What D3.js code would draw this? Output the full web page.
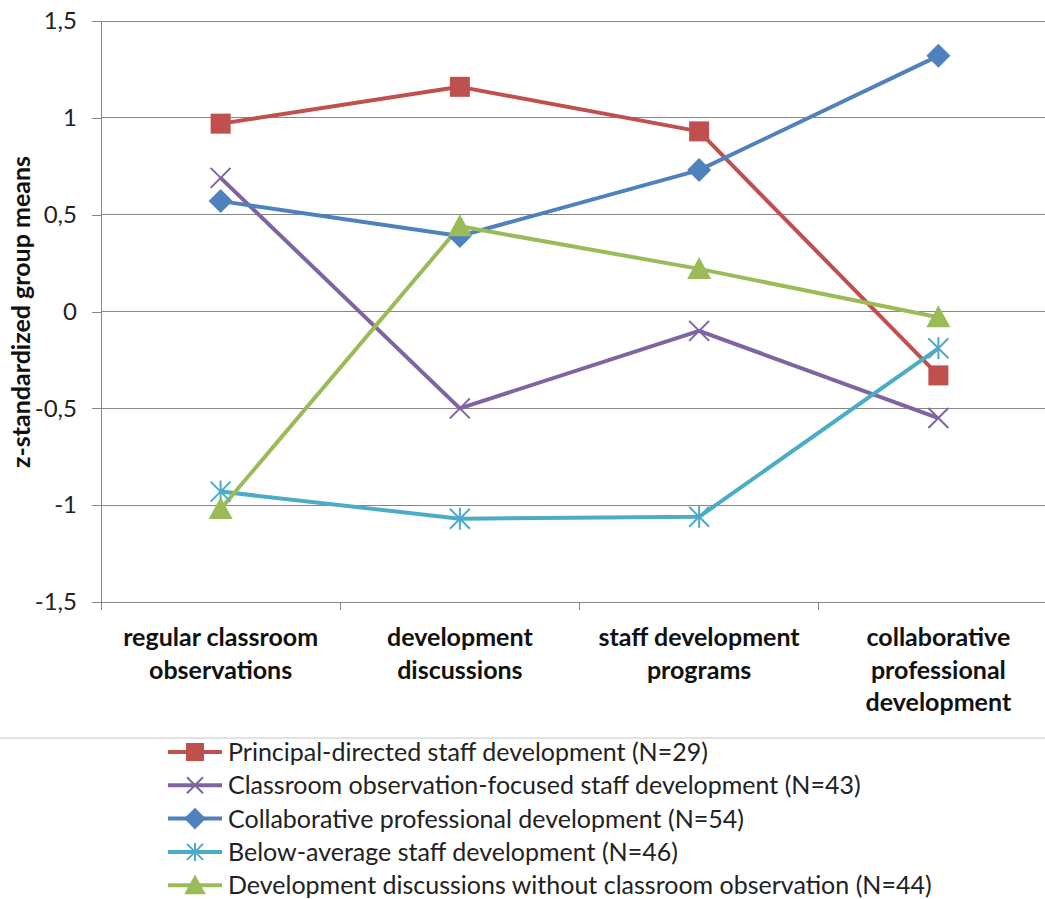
<!DOCTYPE html>
<html><head><meta charset="utf-8">
<script src="https://cdn.jsdelivr.net/npm/d3@7"></script>
<style>
body{margin:0;background:#fff;}
text{font-family:Lato,"Open Sans",sans-serif;}
</style></head>
<body><svg id="c" width="1045" height="899"></svg>
<script>
const categories = [["regular classroom","observations"],["development","discussions"],["staff development","programs"],["collaborative","professional","development"]];
const seriesNames = ["Principal-directed staff development (N=29)","Classroom observation-focused staff development (N=43)","Collaborative professional development (N=54)","Below-average staff development (N=46)","Development discussions without classroom observation (N=44)"];
const principal = [0.97, 1.16, 0.93, -0.33];
const classroomObs = [0.69, -0.50, -0.10, -0.55];
const collaborative = [0.57, 0.39, 0.73, 1.32];
const belowAverage = [-0.93, -1.07, -1.06, -0.19];
const discussions = [-1.02, 0.44, 0.22, -0.03];
const yTicks = [1.5, 1, 0.5, 0, -0.5, -1, -1.5];
const yTickLabels = ["1,5","1","0,5","0","-0,5","-1","-1,5"];
const colors = ["#C0504D","#8064A2","#4F81BD","#4BACC6","#9BBB59"];
const markers = ["square","x","diamond","star","triangle"];
const seriesValues = [principal, classroomObs, collaborative, belowAverage, discussions];

const svg = d3.select("#c");
const x = d3.scaleBand().domain(d3.range(categories.length)).range([101, 1058]);
const y = d3.scaleLinear().domain([-1.5, 1.5]).range([602, 21]);

svg.append("g").selectAll("line").data(yTicks).join("line")
  .attr("x1", 101).attr("x2", 1058).attr("y1", d=>y(d)).attr("y2", d=>y(d))
  .attr("stroke", "#868686").attr("stroke-width", 1).attr("shape-rendering","crispEdges");

const yAxis = d3.axisLeft(y).tickValues(yTicks).tickSize(9).tickFormat((d,i)=>yTickLabels[i]);
const ga = svg.append("g").attr("transform","translate(101,0)").call(yAxis);
ga.select(".domain").attr("stroke","#868686").attr("shape-rendering","crispEdges");
ga.selectAll(".tick line").attr("stroke","#868686").attr("shape-rendering","crispEdges");
ga.selectAll(".tick text").attr("font-size", 24).attr("fill","#222").attr("x",-24)
  .attr("font-family","Lato, Open Sans, sans-serif");

const bounds = d3.range(categories.length + 1).map(i => i < categories.length ? x(i) : x.range()[1]);
svg.append("g").selectAll("line").data(bounds).join("line")
  .attr("x1", d=>d).attr("x2", d=>d).attr("y1", 602).attr("y2", 610)
  .attr("stroke", "#868686").attr("shape-rendering","crispEdges");

const cl = svg.append("g").selectAll("text").data(categories).join("text")
  .attr("text-anchor","middle").attr("font-size",25).attr("font-weight","bold").attr("fill","#111");
cl.each(function(lines,i){
  d3.select(this).selectAll("tspan").data(lines).join("tspan")
    .attr("x", x(i)+x.bandwidth()/2).attr("y",(d,j)=>646+j*32.5).text(d=>d);
});

svg.append("text").attr("transform","translate(30,312) rotate(-90)").attr("text-anchor","middle")
  .attr("font-size",25).attr("font-weight","bold").attr("fill","#111").text("z-standardized  group means");

function drawMarker(g, type, color, cx, cy, s) {
  if (type==="square") g.append("rect").attr("x",cx-s/2).attr("y",cy-s/2).attr("width",s).attr("height",s).attr("fill",color);
  else if (type==="diamond") g.append("path").attr("d",`M${cx},${cy-s*0.6}L${cx+s*0.6},${cy}L${cx},${cy+s*0.6}L${cx-s*0.6},${cy}Z`).attr("fill",color);
  else if (type==="triangle") g.append("path").attr("d",`M${cx},${cy-s*0.6}L${cx+s*0.6},${cy+s*0.5}L${cx-s*0.6},${cy+s*0.5}Z`).attr("fill",color);
  else if (type==="x") { const h=s/2; g.append("path").attr("d",`M${cx-h},${cy-h}L${cx+h},${cy+h}M${cx-h},${cy+h}L${cx+h},${cy-h}`).attr("stroke",color).attr("stroke-width",2).attr("fill","none"); }
  else if (type==="star") { const h=s/2; g.append("path").attr("d",`M${cx-h},${cy-h}L${cx+h},${cy+h}M${cx-h},${cy+h}L${cx+h},${cy-h}M${cx},${cy-h-1}L${cx},${cy+h+1}`).attr("stroke",color).attr("stroke-width",2).attr("fill","none"); }
}

const line = d3.line().x((d,i)=>x(i)+x.bandwidth()/2).y(d=>y(d));
seriesValues.forEach((vals, si) => {
  svg.append("path").attr("d", line(vals)).attr("fill","none").attr("stroke",colors[si]).attr("stroke-width",4).attr("stroke-linejoin","round");
});
seriesValues.forEach((vals, si) => {
  const g = svg.append("g");
  vals.forEach((v,i)=> drawMarker(g, markers[si], colors[si], x(i)+x.bandwidth()/2, y(v), 20));
});

svg.append("line").attr("x1",0).attr("x2",1045).attr("y1",738).attr("y2",738).attr("stroke","#d9d9d9").attr("stroke-width",1.5);

const lg = svg.append("g");
seriesNames.forEach((name, i) => {
  const cy = 752 + i*33.3;
  lg.append("line").attr("x1",168).attr("x2",222).attr("y1",cy).attr("y2",cy).attr("stroke",colors[i]).attr("stroke-width",4);
  drawMarker(lg, markers[i], colors[i], 195, cy, markers[i]==="x"||markers[i]==="star"?16:18);
  lg.append("text").attr("x",228).attr("y",cy+9).attr("font-size",25).attr("fill","#222").text(name);
});
</script></body></html>
